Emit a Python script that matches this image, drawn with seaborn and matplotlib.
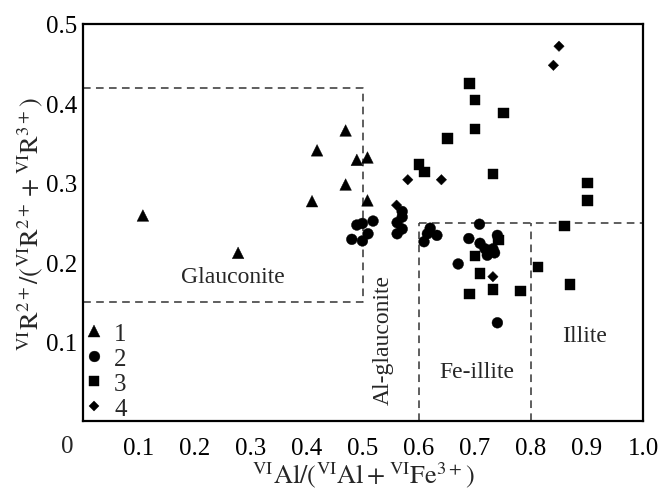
import numpy as np
import pandas as pd
import matplotlib
matplotlib.use("Agg")
import matplotlib.pyplot as plt
import seaborn as sns

# --- datos ---
grupos = ["1", "2", "3", "4"]

x_1 = [0.107, 0.277, 0.409, 0.418, 0.469, 0.469, 0.489, 0.508, 0.508]
y_1 = [0.259, 0.212, 0.277, 0.341, 0.366, 0.298, 0.329, 0.332, 0.278]

x_2 = [0.489, 0.499, 0.518, 0.509, 0.480, 0.499,
       0.570, 0.570, 0.561, 0.570, 0.561,
       0.620, 0.615, 0.632, 0.609,
       0.708, 0.689, 0.709, 0.718, 0.732, 0.722, 0.735, 0.740, 0.670, 0.740]
y_2 = [0.247, 0.249, 0.252, 0.236, 0.229, 0.227,
       0.264, 0.257, 0.250, 0.242, 0.236,
       0.243, 0.236, 0.234, 0.226,
       0.248, 0.230, 0.224, 0.217, 0.217, 0.209, 0.212, 0.234, 0.198, 0.124]

x_3 = [0.690, 0.700, 0.751, 0.700, 0.651, 0.600, 0.610, 0.732, 0.901, 0.901,
       0.860, 0.812, 0.870, 0.781, 0.742, 0.700, 0.709, 0.690, 0.732]
y_3 = [0.425, 0.404, 0.388, 0.368, 0.356, 0.323, 0.314, 0.311, 0.300, 0.278,
       0.246, 0.194, 0.172, 0.164, 0.228, 0.208, 0.186, 0.160, 0.166]

x_4 = [0.560, 0.580, 0.640, 0.732, 0.840, 0.850]
y_4 = [0.272, 0.304, 0.304, 0.182, 0.448, 0.472]

# campos de clasificación (líneas discontinuas)
glauconita_x = [0.0, 0.5, 0.5, 0.0]
glauconita_y = [0.42, 0.42, 0.15, 0.15]
illita_h_x = [0.6, 1.0]
illita_h_y = [0.25, 0.25]
limites_v = [0.6, 0.8]

etiquetas_x = ["0.1", "0.2", "0.3", "0.4", "0.5", "0.6", "0.7", "0.8", "0.9", "1.0"]
etiquetas_y = ["0.1", "0.2", "0.3", "0.4", "0.5"]

df = pd.concat([
    pd.DataFrame({"x": x_1, "y": y_1, "grupo": "1"}),
    pd.DataFrame({"x": x_2, "y": y_2, "grupo": "2"}),
    pd.DataFrame({"x": x_3, "y": y_3, "grupo": "3"}),
    pd.DataFrame({"x": x_4, "y": y_4, "grupo": "4"}),
], ignore_index=True)

sns.set_style("white")
plt.rcParams['font.family'] = ['Liberation Serif', 'DejaVu Serif']
plt.rcParams['mathtext.fontset'] = 'stix'

fig = plt.figure(figsize=(6.58, 4.89), dpi=100)
ax = fig.add_axes([0.1261, 0.1364, 0.8511, 0.8125])

marcadores = {"1": "^", "2": "o", "3": "s", "4": "D"}
tamanos = {"1": 70, "2": 60, "3": 55, "4": 28}

sns.scatterplot(data=df, x="x", y="y", style="grupo", size="grupo",
                markers=marcadores, sizes=tamanos, style_order=grupos,
                size_order=grupos, color="black", edgecolor="black",
                linewidth=0.3, ax=ax, legend=True, zorder=3)

estilo_linea = dict(color="#333333", lw=1.1, ls=(0, (5, 3.5)), zorder=2)
ax.plot(glauconita_x, glauconita_y, **estilo_linea)
ax.plot(illita_h_x, illita_h_y, **estilo_linea)
for xv in limites_v:
    ax.plot([xv, xv], [0.0, 0.25], **estilo_linea)

ax.set_xlim(0, 1.0)
ax.set_ylim(0, 0.5)
ax.set_xticks(np.arange(1, 11) / 10)
ax.set_xticklabels(etiquetas_x)
ax.set_yticks(np.arange(1, 6) / 10)
ax.set_yticklabels(etiquetas_y)
ax.tick_params(axis="both", direction="in", length=7, width=1.3,
               labelsize=18, color="black", labelcolor="black")
ax.tick_params(axis="x", pad=11)
ax.tick_params(axis="y", pad=4)
for s in ax.spines.values():
    s.set_linewidth(1.6)
    s.set_color("black")

# "0" común en la esquina
ax.text(-0.028, -0.062, "0", transform=ax.transAxes, fontsize=18,
        ha="center", va="center")

ax.set_xlabel(r"$^{\mathrm{VI}}\mathrm{Al}/(^{\mathrm{VI}}\mathrm{Al}+{}^{\mathrm{VI}}\mathrm{Fe}^{3+})$",
              fontsize=19, labelpad=0)
ax.set_ylabel(r"$^{\mathrm{VI}}\mathrm{R}^{2+}/(^{\mathrm{VI}}\mathrm{R}^{2+}+{}^{\mathrm{VI}}\mathrm{R}^{3+})$",
              fontsize=19, labelpad=1)

ax.text(0.268, 0.182, "Glauconite", fontsize=17, ha="center", va="center")
ax.text(0.536, 0.103, "Al-glauconite", fontsize=17, ha="center", va="center",
        rotation=90)
ax.text(0.703, 0.063, "Fe-illite", fontsize=17, ha="center", va="center")
ax.text(0.895, 0.108, "Illite", fontsize=17, ha="center", va="center")

handles, labels = ax.get_legend_handles_labels()
ax.legend(handles, labels, loc="lower left", bbox_to_anchor=(0.0, 0.0),
          frameon=False, fontsize=18, handlelength=0.8, handletextpad=0.4,
          labelspacing=0.1, borderaxespad=0.0, borderpad=0.05)

fig.savefig("out.png", dpi=100)
